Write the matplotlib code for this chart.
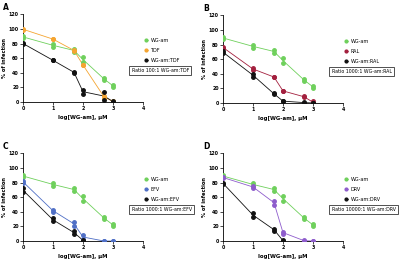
import matplotlib.pyplot as plt
import numpy as np

# log[WG-am] concentrations
x = [0, 1, 1.7, 2, 2.7, 3]

# replicate readings (% of infection), two per dose
wg_am = [[90, 88], [80, 75], [72, 69], [61, 55], [33, 30], [23, 21]]

tdf = [[100, 99], [86, 86], [71, 70], [51, 50], [8, 6], [1, 0]]
wg_tdf = [[81, 79], [57, 57], [41, 40], [17, 11], [13, 3], [1, 0]]

ral = [[77, 75], [48, 45], [36, 35], [17, 16], [9, 8], [2, 0]]
wg_ral = [[71, 68], [40, 36], [13, 12], [3, 2], [1, 0], [0, 0]]

efv = [[82, 80], [43, 40], [26, 21], [8, 3], [0, 0], [0, 0]]
wg_efv = [[72, 67], [31, 27], [14, 9], [2, 0]]

drv = [[88, 86], [75, 73], [55, 50], [13, 10], [1, 0], [0, 0]]
wg_drv = [[80, 78], [38, 33], [17, 14], [1, 0]]

green = "#6fd05c"
black = "#111111"

panels = [
    ("A", [0.0575, 0.608], "TDF", tdf, wg_tdf, "#f5a531", "Ratio 100:1 WG-am:TDF"),
    ("B", [0.5575, 0.604], "RAL", ral, wg_ral, "#a3203e", "Ratio 1000:1 WG-am:RAL"),
    ("C", [0.0575, 0.073], "EFV", efv, wg_efv, "#4f6fc6", "Ratio 1000:1 WG-am:EFV"),
    ("D", [0.5575, 0.073], "DRV", drv, wg_drv, "#8e5ccc", "Ratio 10000:1 WG-am:DRV"),
]

fig = plt.figure(figsize=(4, 2.6), dpi=100)


def series(ax, vals, color, label):
    vals = np.array(vals, dtype=float)
    xs = np.array(x[: len(vals)])
    ax.plot(xs, vals.mean(axis=1), color=color, lw=0.6, zorder=2)
    for k in range(vals.shape[1]):
        ax.plot(xs, vals[:, k], ls="none", marker="o", markersize=2.5,
                color=color, zorder=3)
    # legend proxy
    h, = ax.plot([], [], color=color, marker="o", ms=2.0, lw=0.5)
    return h


for letter, (left, bottom), drug, d, combo, col, ratio in panels:
    ax = fig.add_axes([left, bottom, 0.30, 0.337])
    h1 = series(ax, wg_am, green, "WG-am")
    h2 = series(ax, d, col, drug)
    h3 = series(ax, combo, black, "WG-am:" + drug)
    ax.set_xlim(0, 4)
    ax.set_ylim(0, 120)
    ax.set_xticks([0, 1, 2, 3, 4])
    ax.set_yticks(range(0, 121, 20))
    for s in ["top", "right"]:
        ax.spines[s].set_visible(False)
    for s in ["left", "bottom"]:
        ax.spines[s].set_linewidth(0.6)
    ax.tick_params(labelsize=3.4, width=0.5, length=2, pad=1.0)
    for t in ax.get_xticklabels() + ax.get_yticklabels():
        t.set_fontweight("bold")
    ax.set_xlabel("log[WG-am], μM", fontsize=3.9, fontweight="bold", labelpad=3)
    ax.set_ylabel("% of infection", fontsize=3.7, fontweight="bold", labelpad=1.0)
    ax.legend([h1, h2, h3], ["WG-am", drug, "WG-am:" + drug], loc="upper left",
              bbox_to_anchor=(0.985, 0.77), frameon=False, fontsize=3.5,
              handlelength=0.6, handletextpad=0.6, labelspacing=1.0,
              borderpad=0.2)
    ax.text(0.905, 0.36, ratio, transform=ax.transAxes, fontsize=3.4,
            ha="left", va="center",
            bbox=dict(boxstyle="square,pad=0.45", fc="white", ec="#333333",
                      lw=0.6))
    fig.text(left - 0.05, bottom + 0.382, letter, fontsize=5.5,
             fontweight="bold", ha="left", va="top")

fig.savefig("out.png", dpi=100)
